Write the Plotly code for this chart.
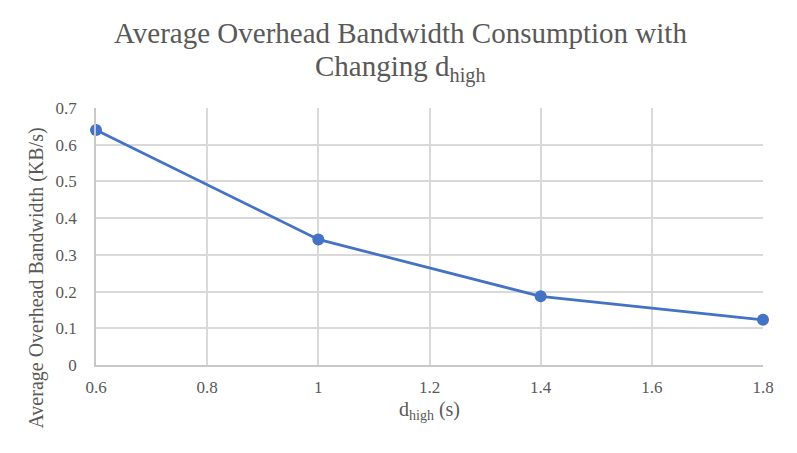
import plotly.graph_objects as go

d_high = [0.6, 1.0, 1.4, 1.8]
bandwidth = [0.640, 0.342, 0.187, 0.123]
x_ticks = [0.6, 0.8, 1.0, 1.2, 1.4, 1.6, 1.8]
x_tick_labels = ["0.6", "0.8", "1", "1.2", "1.4", "1.6", "1.8"]
y_ticks = [0, 0.1, 0.2, 0.3, 0.4, 0.5, 0.6, 0.7]
y_tick_labels = ["0", "0.1", "0.2", "0.3", "0.4", "0.5", "0.6", "0.7"]
title_line1 = "Average Overhead Bandwidth Consumption with"
title_line2 = "Changing d<sub>high</sub>"
x_title = "d<sub>high</sub> (s)"
y_title = "Average Overhead Bandwidth (KB/s)"

font_family = "Liberation Serif"
grey = "#595959"

fig = go.Figure()
fig.add_trace(go.Scatter(
    x=d_high, y=bandwidth, mode="lines+markers",
    line=dict(color="#4472C4", width=2.75),
    marker=dict(color="#4472C4", size=12),
    cliponaxis=False,
))

fig.update_layout(
    width=789, height=445,
    paper_bgcolor="white", plot_bgcolor="white",
    margin=dict(l=88, r=34, t=100, b=88),
    showlegend=False,
    font=dict(family=font_family, color=grey, size=17),
    xaxis=dict(
        range=[0.6, 1.8], tickvals=x_ticks, ticktext=x_tick_labels,
        showgrid=True, gridcolor="#D9D9D9", gridwidth=1.5,
        showline=True, linecolor="#C8C8C8", linewidth=1.5,
        zeroline=False, ticks="", ticklabelstandoff=6,
        tickfont=dict(family=font_family, size=17, color=grey),
        title=dict(text=x_title, font=dict(family=font_family, size=20, color=grey), standoff=6),
    ),
    yaxis=dict(
        range=[0, 0.7], tickvals=y_ticks, ticktext=y_tick_labels,
        showgrid=True, gridcolor="#D9D9D9", gridwidth=1.5,
        showline=True, linecolor="#C8C8C8", linewidth=1.5,
        zeroline=False, ticks="", ticklabelstandoff=14,
        tickfont=dict(family=font_family, size=17, color=grey),
    ),
    annotations=[
        dict(text=title_line1, xref="paper", yref="paper", x=0.456, y=1.36,
             xanchor="center", yanchor="top", showarrow=False,
             font=dict(family=font_family, size=29, color=grey)),
        dict(text=title_line2, xref="paper", yref="paper", x=0.456, y=1.235,
             xanchor="center", yanchor="top", showarrow=False,
             font=dict(family=font_family, size=29, color=grey)),
        dict(text=y_title, xref="paper", yref="paper", x=-0.0885, y=0.34,
             xanchor="center", yanchor="middle", textangle=-90, showarrow=False,
             font=dict(family=font_family, size=20, color=grey)),
    ],
)

fig.write_html("out.html")
